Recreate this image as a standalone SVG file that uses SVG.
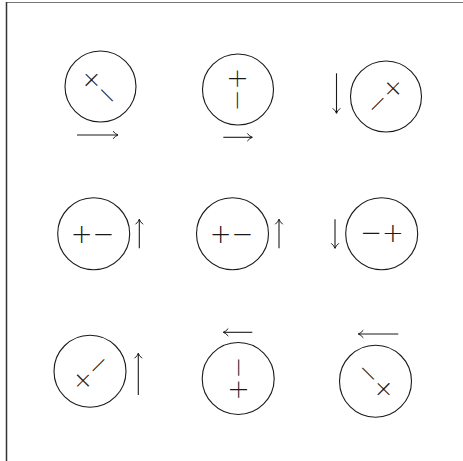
<svg xmlns="http://www.w3.org/2000/svg" width="463" height="461" viewBox="0 0 463 461">
<style>
.c{fill:none;stroke:#1a1a1a;stroke-width:1.1}
.t{font-family:"DejaVu Sans",sans-serif;font-weight:200;font-size:26px;fill:#1a1a1a;text-anchor:middle}
.a{fill:none;stroke:#1a1a1a;stroke-width:1.1;marker-end:url(#h)}
</style>
<defs>
<marker id="h" markerUnits="userSpaceOnUse" markerWidth="12" markerHeight="12" refX="0" refY="0" viewBox="-7 -6 8 12" orient="auto" overflow="visible">
<path d="M-5,-3.8 Q-2.5,-0.8 0,0 Q-2.5,0.8 -5,3.8" fill="none" stroke="#1a1a1a" stroke-width="1"/>
</marker>
</defs>
<rect width="463" height="461" fill="#fff"/>
<g id="frame">
<line x1="6" y1="2.5" x2="463" y2="2.5" stroke="#777" stroke-width="1.2"/>
<line x1="6.5" y1="2" x2="6.5" y2="461" stroke="#333" stroke-width="1.5"/>
</g>
<g id="n1"><circle class="c" cx="100.5" cy="86.5" r="35.5"/><text class="t" transform="translate(100,87) rotate(45)" x="0" y="9.2">+−</text></g>
<g id="n2"><circle class="c" cx="238" cy="89.5" r="35.5"/><text class="t" transform="translate(238,89.5) rotate(90)" x="0" y="9.2">+−</text></g>
<g id="n3"><circle class="c" cx="386" cy="96.5" r="35.5"/><text class="t" transform="translate(386,97) rotate(135)" x="0" y="9.2">+−</text></g>
<g id="n4"><circle class="c" cx="93.7" cy="233.7" r="36"/><text class="t" transform="translate(92.5,233.5)" x="0" y="9.2">+−</text></g>
<g id="n5"><circle class="c" cx="232.5" cy="233.7" r="36"/><text class="t" transform="translate(231.5,233.5)" x="0" y="9.2">+−</text></g>
<g id="n6"><circle class="c" cx="381.7" cy="233.7" r="36"/><text class="t" transform="translate(382,234) rotate(180)" x="0" y="9.2">+−</text></g>
<g id="n7"><circle class="c" cx="90" cy="371.2" r="36"/><text class="t" transform="translate(90,372) rotate(-45)" x="0" y="9.2">+−</text></g>
<g id="n8"><circle class="c" cx="238.2" cy="378.5" r="36"/><text class="t" transform="translate(238,378.6) rotate(-90)" x="0" y="9.2">+−</text></g>
<g id="n9"><circle class="c" cx="375.5" cy="381.2" r="36"/><text class="t" transform="translate(375,382) rotate(-135)" x="0" y="9.2">+−</text></g>
<g id="connectors">
<line class="a" x1="77" y1="135" x2="118" y2="135"/>
<line class="a" x1="223.3" y1="137.3" x2="252.3" y2="137.3"/>
<line class="a" x1="336.5" y1="73.3" x2="336.5" y2="113.3"/>
<line class="a" x1="139.3" y1="248.3" x2="139.3" y2="219.3"/>
<line class="a" x1="279" y1="248.3" x2="279" y2="219.3"/>
<line class="a" x1="335" y1="219.3" x2="335" y2="248.3"/>
<line class="a" x1="138.3" y1="395" x2="138.3" y2="353.3"/>
<line class="a" x1="252.3" y1="332.3" x2="223.3" y2="332.3"/>
<line class="a" x1="398.3" y1="334" x2="358.3" y2="334"/>
</g>
</svg>
